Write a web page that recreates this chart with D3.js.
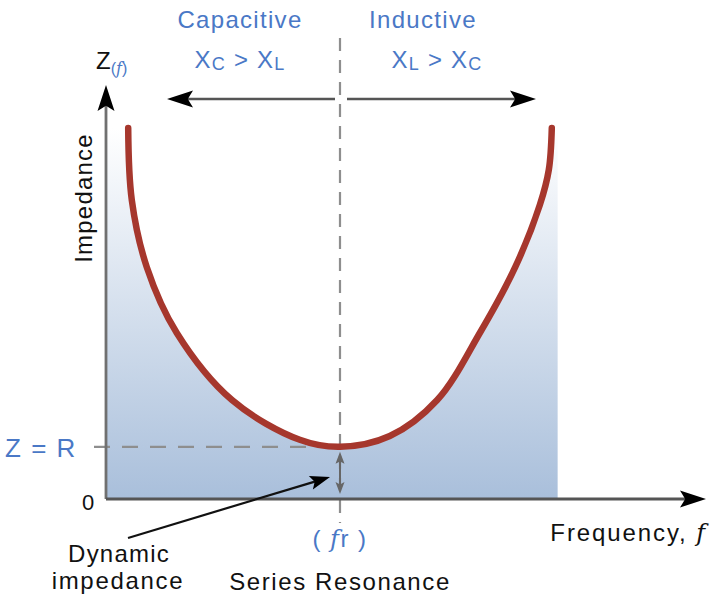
<!DOCTYPE html>
<html>
<head>
<meta charset="utf-8">
<script src="https://cdn.jsdelivr.net/npm/d3@7"></script>
<style>
  html, body { margin: 0; padding: 0; background: #fff; }
  svg { display: block; font-family: "Liberation Sans", Arial, sans-serif; }
</style>
</head>
<body>
<svg id="chart" width="712" height="606"></svg>
<script>
// ---- data (arbitrary units) ----
const freq      = [3.7, 4.3, 6.8, 11.8, 21.0, 32.3, 39.0, 47.3, 55.2, 62.3, 68.2, 72.3, 73.8, 74.3];
const impedance = [89.6, 72.2, 56.0, 40.1, 23.9, 14.3, 12.6, 15.2, 23.9, 40.1, 56.0, 71.0, 79.5, 89.6];
const resonantFreq = 39.0;     // f_r
const resistance   = 12.6;     // Z = R
const fillEnd      = 75.3;     // right edge of shaded band
const axisMax      = 100;
const yTickLabels  = ["0"];

const svg = d3.select("#chart");
const x = d3.scaleLinear().domain([0, axisMax]).range([106, 706]);
const y = d3.scaleLinear().domain([0, axisMax]).range([499, 85]);

const pts = freq.map((f, i) => [f, impedance[i]]);
const line = d3.line().x(d => x(d[0])).y(d => y(d[1])).curve(d3.curveCatmullRom.alpha(0.5));

const blue = "#4a78c6";

// ---- defs ----
const defs = svg.append("defs");
const grad = defs.append("linearGradient").attr("id", "fillGrad")
  .attr("gradientUnits", "userSpaceOnUse")
  .attr("x1", 0).attr("x2", 0).attr("y1", y(impedance[0])).attr("y2", y(0));
grad.append("stop").attr("offset", "0%").attr("stop-color", "#ffffff");
grad.append("stop").attr("offset", "100%").attr("stop-color", "#a9bfdb");

const topZ = impedance[0];
const clipD = line(pts) +
  `L${x(fillEnd)},${y(topZ)}L${x(fillEnd)},${y(0)}L${x(0)},${y(0)}L${x(0)},${y(topZ)}Z`;
defs.append("clipPath").attr("id", "underCurve").append("path").attr("d", clipD);

// ---- shaded area under curve ----
svg.append("rect")
  .attr("x", x(0)).attr("y", y(topZ))
  .attr("width", x(fillEnd) - x(0)).attr("height", y(0) - y(topZ))
  .attr("fill", "url(#fillGrad)")
  .attr("clip-path", "url(#underCurve)");

// helper: arrowhead polygon
function arrowHead(tipX, tipY, angle, len, half, color) {
  const c = Math.cos(angle), s = Math.sin(angle);
  const bx = tipX - len * c, by = tipY - len * s;
  const p1 = [bx - half * s, by + half * c];
  const p2 = [bx + half * s, by - half * c];
  const notch = [tipX - len * 0.8 * c, tipY - len * 0.8 * s];
  svg.append("path")
    .attr("d", `M${tipX},${tipY}L${p1[0]},${p1[1]}L${notch[0]},${notch[1]}L${p2[0]},${p2[1]}Z`)
    .attr("fill", color);
}

// ---- dashed guide lines ----
svg.append("line")
  .attr("x1", x(resonantFreq)).attr("x2", x(resonantFreq))
  .attr("y1", 38).attr("y2", 523)
  .attr("stroke", "#8e8e8e").attr("stroke-width", 2.2)
  .attr("stroke-dasharray", "13,9");
svg.append("line")
  .attr("x1", 94).attr("x2", x(resonantFreq))
  .attr("y1", y(resistance)).attr("y2", y(resistance))
  .attr("stroke", "#8e8e8e").attr("stroke-width", 2.2)
  .attr("stroke-dasharray", "16,12");

// ---- axes ----
svg.append("line")
  .attr("x1", x(0)).attr("x2", x(0)).attr("y1", y(0)).attr("y2", y(axisMax) + 20)
  .attr("stroke", "#707070").attr("stroke-width", 2.8);
arrowHead(x(0), y(axisMax), -Math.PI / 2, 26, 8.5, "#000");

svg.append("line")
  .attr("x1", x(0)).attr("x2", x(axisMax) - 20).attr("y1", y(0)).attr("y2", y(0))
  .attr("stroke", "#555").attr("stroke-width", 2.8);
arrowHead(x(axisMax), y(0), 0, 26, 8.5, "#000");

// ---- horizontal region arrows ----
const arrY = 99;
svg.append("line").attr("x1", x(resonantFreq) - 5).attr("x2", 185)
  .attr("y1", arrY).attr("y2", arrY).attr("stroke", "#555").attr("stroke-width", 2.6);
arrowHead(167, arrY, Math.PI, 26, 8.5, "#000");
svg.append("line").attr("x1", x(resonantFreq) + 7).attr("x2", 518)
  .attr("y1", arrY).attr("y2", arrY).attr("stroke", "#555").attr("stroke-width", 2.6);
arrowHead(536, arrY, 0, 26, 8.5, "#000");

// ---- impedance curve ----
svg.append("path")
  .attr("d", line(pts))
  .attr("fill", "none")
  .attr("stroke", "#a6372d")
  .attr("stroke-width", 6.5)
  .attr("stroke-linecap", "round");

// ---- small double arrow (dynamic impedance) ----
const daX = x(resonantFreq);
svg.append("line").attr("x1", daX).attr("x2", daX)
  .attr("y1", y(resistance) + 12).attr("y2", y(0) - 12)
  .attr("stroke", "#666").attr("stroke-width", 2);
arrowHead(daX, y(resistance) + 5, -Math.PI / 2, 12, 4.5, "#666");
arrowHead(daX, y(0) - 5, Math.PI / 2, 12, 4.5, "#666");

// pointer arrow from label
const px0 = 128, py0 = 538, px1 = 330, py1 = 477;
const ang = Math.atan2(py1 - py0, px1 - px0);
svg.append("line").attr("x1", px0).attr("y1", py0)
  .attr("x2", px1 - 15 * Math.cos(ang)).attr("y2", py1 - 15 * Math.sin(ang))
  .attr("stroke", "#111").attr("stroke-width", 2.2);
arrowHead(px1, py1, ang, 20, 7, "#000");

// ---- text ----
const fs = 24;
function txt(xp, yp, s, opts = {}) {
  return svg.append("text").attr("x", xp).attr("y", yp)
    .attr("font-size", opts.size || fs)
    .attr("fill", opts.color || "#111")
    .attr("text-anchor", opts.anchor || "middle")
    .attr("letter-spacing", opts.ls == null ? 1.2 : opts.ls)
    .text(s);
}

txt(240, 28, "Capacitive", { color: blue, ls: 1.3 });
txt(423, 28, "Inductive", { color: blue, ls: 1.3 });

function reactance(cx, a, b) {
  const t = svg.append("text").attr("x", cx).attr("y", 68)
    .attr("font-size", fs).attr("fill", blue).attr("text-anchor", "middle")
    .attr("letter-spacing", 1.2);
  t.append("tspan").text("X");
  t.append("tspan").attr("font-size", 18).attr("dy", 2).text(a);
  t.append("tspan").attr("dy", -2).text(" > X");
  t.append("tspan").attr("font-size", 18).attr("dy", 2).text(b);
}
reactance(240, "C", "L");
reactance(437, "L", "C");

// Z(f) axis title
const zt = svg.append("text").attr("x", 96).attr("y", 69)
  .attr("font-size", fs).attr("fill", "#111");
zt.append("tspan").text("Z");
zt.append("tspan").attr("font-size", 16).attr("dy", 5).attr("fill", blue).text("(");
zt.append("tspan").attr("font-size", 16).attr("font-style", "italic")
  .attr("font-family", "'DejaVu Serif', serif").attr("fill", blue).text("f");
zt.append("tspan").attr("font-size", 16).attr("fill", blue).text(")");

svg.append("text")
  .attr("transform", `translate(92,198) rotate(-90)`)
  .attr("font-size", fs).attr("fill", "#111").attr("text-anchor", "middle")
  .attr("letter-spacing", 1.2)
  .text("Impedance");

txt(41, y(resistance) + 10, "Z = R", { color: blue, size: 26, ls: 1.5 });
txt(88, y(0) + 11, yTickLabels[0], { size: 22, ls: 0 });

// (f r)
const fr = svg.append("text").attr("x", x(resonantFreq)).attr("y", 547)
  .attr("font-size", fs).attr("fill", blue).attr("text-anchor", "middle")
  .attr("letter-spacing", 1.5);
fr.append("tspan").text("( ");
fr.append("tspan").attr("font-style", "italic").attr("font-family", "'DejaVu Serif', serif").text("f");
fr.append("tspan").text("r )");

txt(x(resonantFreq), 590, "Series Resonance", { ls: 1.6 });

const fq = svg.append("text").attr("x", 707).attr("y", 541)
  .attr("font-size", fs).attr("fill", "#111").attr("text-anchor", "end")
  .attr("letter-spacing", 1.9);
fq.append("tspan").text("Frequency, ");
fq.append("tspan").attr("font-style", "italic").attr("font-family", "'DejaVu Serif', serif").text("f");

txt(119, 562, "Dynamic", { ls: 1.2 });
txt(118, 589, "impedance", { ls: 1.7 });
</script>
</body>
</html>
